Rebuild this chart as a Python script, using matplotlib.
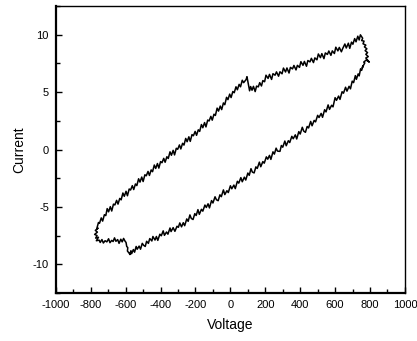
import numpy as np
import matplotlib
matplotlib.use("Agg")
import matplotlib.pyplot as plt
from matplotlib.ticker import MultipleLocator

plt.rcParams['font.family'] = ['Liberation Sans', 'DejaVu Sans']
plt.rcParams['axes.unicode_minus'] = False

# lower branch: bottom-left corner up to the right-hand tip
v_lower = [-576, -570, -566, -556, -549, -540, -534, -523, -515, -505, -497, -488, -480, -470,
           -462, -450, -444, -432, -424, -416, -404, -396, -385, -378, -366, -358, -346, -340,
           -328, -318, -306, -298, -290, -280, -270, -262, -250, -242, -232, -224, -214, -204,
           -196, -186, -178, -166, -158, -146, -138, -128, -120, -108, -100, -88, -80, -70, -60,
           -52, -40, -32, -20, -12, 0, 8, 20, 28, 40, 48, 60, 68, 80, 88, 100, 108, 118, 126,
           136, 146, 154, 166, 174, 186, 194, 206, 214, 224, 232, 244, 252, 262, 270, 284, 292,
           300, 312, 320, 332, 340, 352, 360, 372, 380, 392, 400, 412, 420, 430, 440, 448, 460,
           468, 480, 488, 500, 508, 520, 528, 540, 548, 560, 568, 580, 588, 600, 608, 620, 628,
           640, 648, 660, 668, 680, 688, 698, 706, 716, 722, 732, 738, 746, 752, 760, 756, 770,
           764, 778, 796, 776, 790, 776, 786, 772, 782, 768, 776, 760, 766, 752, 758, 745]
i_lower = [-9.13, -8.82, -9.08, -8.72, -8.95, -8.45, -8.69, -8.42, -8.69, -8.18, -8.35, -8.45,
           -8.00, -8.18, -7.76, -7.97, -7.58, -7.89, -7.58, -7.92, -7.38, -7.52, -7.09, -7.48,
           -7.19, -7.38, -6.84, -7.15, -6.81, -7.13, -6.69, -6.78, -6.40, -6.74, -6.38, -6.64,
           -6.05, -6.26, -5.70, -6.01, -6.10, -5.59, -5.75, -5.24, -5.65, -5.21, -5.37, -4.84,
           -5.05, -4.73, -5.09, -4.45, -4.66, -4.12, -4.38, -4.46, -3.95, -4.11, -3.52, -3.93,
           -3.59, -3.75, -3.16, -3.42, -3.10, -3.41, -2.77, -2.93, -2.45, -2.81, -2.41, -2.66,
           -2.05, -2.25, -1.67, -1.97, -2.04, -1.51, -1.65, -1.10, -1.50, -1.05, -1.19, -0.64,
           -0.84, -0.51, -0.86, -0.20, -0.40, 0.12, -0.14, -0.16, 0.35, 0.20, 0.74, 0.33, 0.77,
           0.61, 1.15, 0.94, 1.28, 0.92, 1.56, 1.35, 1.94, 1.61, 1.50, 2.01, 1.88, 2.45, 2.07,
           2.54, 2.41, 2.98, 2.79, 3.15, 2.81, 3.47, 3.28, 3.89, 3.50, 3.86, 3.72, 4.52, 4.29,
           4.66, 4.37, 5.04, 4.91, 5.43, 5.09, 5.51, 5.29, 5.96, 5.83, 6.44, 6.12, 6.59, 6.42,
           7.04, 6.90, 7.30, 7.15, 7.55, 7.62, 7.80, 7.62, 7.98, 8.10, 8.30, 8.45, 8.62, 8.78,
           8.95, 9.10, 9.22, 9.45, 9.50, 9.70, 10.0]

# upper branch: right-hand tip back to the left, round the corner to the start
v_upper = [745, 738, 730, 720, 712, 702, 694, 684, 676, 664, 656, 644, 636, 624, 616, 604, 596,
           584, 576, 564, 556, 544, 536, 524, 516, 504, 496, 484, 476, 464, 456, 444, 436, 424,
           416, 404, 396, 384, 376, 364, 356, 344, 336, 324, 316, 304, 296, 284, 276, 264, 256,
           244, 236, 224, 216, 204, 196, 186, 178, 168, 160, 150, 142, 132, 124, 116, 110, 104,
           100, 95, 90, 84, 76, 68, 58, 50, 40, 32, 22, 14, 4, -4, -14, -22, -32, -40, -50, -58,
           -68, -76, -86, -94, -104, -112, -122, -130, -140, -148, -158, -166, -176, -184, -194,
           -202, -212, -220, -230, -238, -248, -256, -266, -274, -284, -292, -302, -310, -320,
           -328, -338, -346, -356, -364, -374, -382, -392, -400, -410, -418, -428, -436, -446,
           -454, -464, -472, -482, -490, -500, -508, -518, -526, -536, -544, -554, -562, -572,
           -580, -590, -598, -608, -616, -626, -634, -644, -652, -662, -670, -680, -688, -698,
           -706, -714, -722, -732, -740, -750, -756, -766, -758, -774, -762, -778, -764, -772,
           -756, -768, -752, -746, -736, -728, -718, -708, -698, -690, -680, -672, -664, -656,
           -646, -638, -628, -620, -612, -604, -598, -594, -588, -590, -582, -576]
i_upper = [10.0, 9.55, 9.88, 9.39, 9.67, 9.18, 9.36, 8.82, 9.27, 8.85, 9.20, 8.82, 8.52, 8.90,
           8.60, 8.92, 8.37, 8.60, 8.21, 8.59, 8.29, 8.42, 7.92, 8.36, 8.01, 8.33, 7.82, 7.99,
           7.58, 7.95, 7.64, 7.76, 7.26, 7.68, 7.34, 7.66, 7.16, 7.34, 6.94, 7.33, 7.03, 7.16,
           6.67, 7.11, 6.76, 7.10, 6.60, 6.78, 6.39, 6.77, 6.48, 6.61, 6.11, 6.55, 6.20, 6.48,
           5.91, 6.01, 5.54, 5.83, 5.46, 5.53, 5.05, 5.51, 5.17, 5.49, 5.12, 5.60, 5.95, 6.35,
           6.10, 5.98, 5.83, 6.04, 5.47, 5.68, 5.21, 5.47, 4.95, 5.06, 4.53, 4.83, 4.35, 4.55,
           3.91, 4.06, 3.48, 3.79, 3.35, 3.61, 2.97, 3.08, 2.56, 2.89, 2.49, 2.57, 1.97, 2.35,
           1.90, 2.18, 1.58, 1.72, 1.24, 1.58, 1.20, 1.30, 0.71, 1.11, 0.68, 0.97, 0.39, 0.54,
           0.05, 0.40, 0.02, 0.11, -0.47, -0.07, -0.50, -0.20, -0.78, -0.63, -1.11, -0.77, -1.15,
           -1.05, -1.62, -1.22, -1.65, -1.35, -1.93, -1.78, -2.26, -1.91, -2.29, -2.20, -2.79,
           -2.40, -2.84, -2.55, -3.14, -3.00, -3.49, -3.15, -3.53, -3.44, -4.03, -3.64, -4.08,
           -3.79, -4.39, -4.26, -4.76, -4.43, -4.83, -4.76, -5.36, -4.98, -5.43, -5.15, -5.76,
           -5.68, -6.24, -5.96, -6.43, -6.36, -6.92, -6.85, -7.05, -7.20, -7.40, -7.50, -7.72,
           -7.65, -7.95, -7.90, -8.10, -7.85, -8.15, -7.95, -8.05, -7.78, -8.12, -7.92, -8.02,
           -7.70, -8.00, -7.85, -8.18, -7.82, -8.05, -7.75, -7.98, -8.10, -8.45, -8.55, -8.85,
           -9.00, -9.13]

voltage = v_lower + v_upper
current = i_lower + i_upper

fig = plt.figure(figsize=(4.17, 3.41), dpi=100)
ax = fig.add_axes([0.134, 0.141, 0.837, 0.841])
ax.plot(voltage, current, color='black', linewidth=1.1)

ax.set_xlim(-1000, 1000)
ax.set_ylim(-12.5, 12.5)
ax.xaxis.set_major_locator(MultipleLocator(200))
ax.xaxis.set_minor_locator(MultipleLocator(100))
ax.yaxis.set_major_locator(MultipleLocator(5))
ax.yaxis.set_minor_locator(MultipleLocator(2.5))
ax.tick_params(which='both', direction='in', top=False, right=False, labelsize=8, width=1.0)
ax.tick_params(which='major', length=4, pad=5)
ax.tick_params(which='minor', length=3)
ax.spines['left'].set_linewidth(1.6)
ax.spines['bottom'].set_linewidth(1.6)
ax.spines['top'].set_linewidth(1.0)
ax.spines['right'].set_linewidth(1.0)

ax.set_xlabel("Voltage", fontsize=10, labelpad=6)
ax.set_ylabel("Current", fontsize=10, labelpad=5)

fig.savefig("out.png", dpi=100)
